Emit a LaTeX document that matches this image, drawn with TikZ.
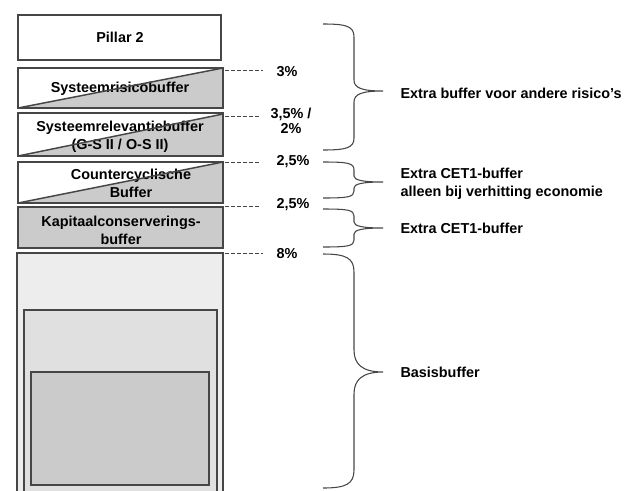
\documentclass[tikz,border=0pt]{standalone}
\usepackage{fontspec}
\setmainfont{Liberation Sans}
\definecolor{boxgrey}{RGB}{203,203,203}
\definecolor{basegrey}{RGB}{237,237,237}
\definecolor{midgrey}{RGB}{224,224,224}
\definecolor{edgegrey}{RGB}{70,70,70}
\tikzset{every picture/.style={line width=0.75pt}}
\tikzset{
  bufbox/.style={draw=edgegrey, line width=1.1pt},
  pctdash/.style={draw=edgegrey, line width=0.7pt, dash pattern={on 3pt off 1.5pt}},
  bracecurve/.style={draw=edgegrey, line width=0.8pt},
  lbl/.style={font=\fontsize{10.8}{13.3}\selectfont\bfseries, align=center, inner sep=0pt},
}

\begin{document}
\begin{tikzpicture}[x=0.75pt,y=0.75pt,yscale=-1,xscale=1]
\useasboundingbox (0,0) rectangle (624,490);

%Shape: Rectangle (basis, three nested boxes)
\draw [bufbox, fill=basegrey]  (17,253) -- (223,253) -- (223,496) -- (17,496) -- cycle ;
\draw [bufbox, line width=0.8pt, fill=midgrey]  (24,310) -- (217,310) -- (217,496) -- (24,496) -- cycle ;
\draw [bufbox, line width=0.8pt, fill=boxgrey]  (31,372) -- (209,372) -- (209,485) -- (31,485) -- cycle ;

%Shape: Rectangle (pillar 2)
\draw [bufbox, fill=white]  (18,15) -- (221,15) -- (221,60) -- (18,60) -- cycle ;
% Text Node
\draw (120,37) node [lbl] (pillar) {Pillar 2};

%Shape: Right Triangle (systeemrisico)
\fill [boxgrey]  (18,108) -- (223,108) -- (223,68) -- cycle ;
% Text Node
\draw (120,89) node [lbl] (sysrisk) {Systeemrisicobuffer};
\draw [bufbox]  (18,68) -- (223,68) -- (223,108) -- (18,108) -- cycle ;
\draw [bufbox]  (18,108) -- (223,68) ;

%Shape: Right Triangle (systeemrelevantie)
\fill [boxgrey]  (18,156) -- (223,156) -- (223,114) -- cycle ;
% Text Node
\draw (120,137) node [lbl] (sysrel) {Systeemrelevantiebuffer\\(G-S II / O-S II)};
\draw [bufbox]  (18,113) -- (223,113) -- (223,156) -- (18,156) -- cycle ;
\draw [bufbox]  (18,156) -- (223,114) ;

%Shape: Right Triangle (countercyclisch)
\fill [boxgrey]  (18,203) -- (223,203) -- (223,162) -- cycle ;
% Text Node
\draw (131,183) node [lbl] (ccyb) {Countercyclische\\Buffer};
\draw [bufbox]  (18,162) -- (223,162) -- (223,203) -- (18,203) -- cycle ;
\draw [bufbox]  (18,203) -- (223,162) ;

%Shape: Rectangle (kapitaalconservering)
\draw [bufbox, fill=boxgrey]  (18,207) -- (223,207) -- (223,248) -- (18,248) -- cycle ;
% Text Node
\draw (121,230) node [lbl] (kcb) {Kapitaalconserverings-\\buffer};

%Straight Lines (percent markers)
\draw [pctdash]  (225,70) -- (263,70) ;
\draw [pctdash]  (225,116) -- (260,116) ;
\draw [pctdash]  (225,162) -- (260,162) ;
\draw [pctdash]  (225,206) -- (260,206) ;
\draw [pctdash]  (225,253) -- (263,253) ;

% Text Node
\draw (287,72) node [lbl] (p3) {3\%};
% Text Node
\draw (291,121) node [lbl, font=\fontsize{10.8}{11.5}\selectfont\bfseries] (p35) {3,5\% /\\2\%};
% Text Node
\draw (293,162) node [lbl] (p25a) {2,5\%};
% Text Node
\draw (293,205) node [lbl] (p25b) {2,5\%};
% Text Node
\draw (287,254) node [lbl] (p8) {8\%};

%Curve Lines (braces)
\draw [bracecurve]  (323,24) .. controls (346,24) and (354,26) .. (354,37) -- (354,80) .. controls (354,88) and (362,91) .. (383,91) .. controls (362,91) and (354,94) .. (354,102) -- (354,138) .. controls (354,148) and (346,150) .. (323,150) ;
\draw [bracecurve]  (323,162) .. controls (348,162) and (354,163) .. (354,170) -- (354,176) .. controls (354,180) and (362,182) .. (383,182) .. controls (362,182) and (354,184) .. (354,188) -- (354,191) .. controls (354,197) and (348,198) .. (323,198) ;
\draw [bracecurve]  (323,209) .. controls (348,209) and (354,210) .. (354,216) -- (354,222) .. controls (354,226) and (362,228) .. (383,228) .. controls (362,228) and (354,230) .. (354,234) -- (354,240) .. controls (354,246) and (348,247) .. (323,247) ;
\draw [bracecurve]  (323,254) .. controls (346,254) and (354,258) .. (354,272) -- (354,350) .. controls (354,364) and (362,372) .. (383,372) .. controls (362,372) and (354,380) .. (354,394) -- (354,470) .. controls (354,484) and (346,488) .. (323,488) ;

% Text Node
\draw (400,93) node [lbl, anchor=west] (other) {Extra buffer voor andere risico’s};
% Text Node
\draw (400,184) node [lbl, anchor=west, align=left] (cet1a) {Extra CET1-buffer\\alleen bij verhitting economie};
% Text Node
\draw (400,228) node [lbl, anchor=west] (cet1b) {Extra CET1-buffer};
% Text Node
\draw (400,372) node [lbl, anchor=west] (basis) {Basisbuffer};

\end{tikzpicture}
\end{document}
